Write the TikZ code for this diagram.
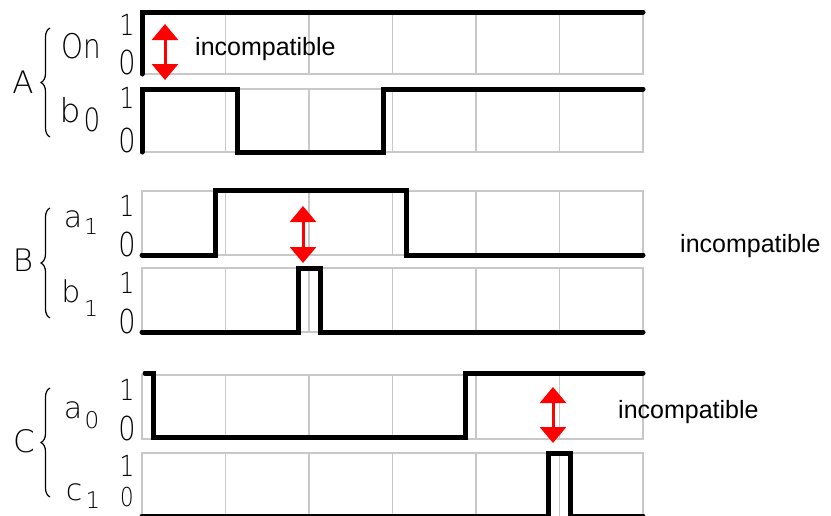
\documentclass[tikz,border=0pt]{standalone}
\usepackage{graphicx}
\usepackage{fontspec}
\setmainfont{Liberation Sans}
\newfontfamily\thinfont{DejaVu Sans ExtraLight}
\usetikzlibrary{arrows.meta,decorations.pathreplacing}
\definecolor{gridgray}{RGB}{200,200,200}
\newcommand{\narrow}[1]{\scalebox{0.82}[1]{#1}}
\begin{document}
\begin{tikzpicture}[x=1pt,y=-1pt,
  gridline/.style={draw=gridgray, line width=1.5pt},
  signal/.style={draw=black, line width=5pt, line cap=round, line join=miter},
  incarrow/.style={draw=red, line width=3pt,
     {Triangle[width=26pt,length=16pt]}-{Triangle[width=26pt,length=16pt]}},
  note/.style={font=\fontsize{25}{30}\selectfont, anchor=base west, inner sep=0pt},
  lab/.style={font=\thinfont\fontsize{#1}{#1}\selectfont, inner sep=0pt},
  lab/.default=30,
  bracestyle/.style={draw=black, line width=1.2pt, decorate,
     decoration={brace, amplitude=9pt}}
]
\useasboundingbox (0,0) rectangle (831,515);
\fill[white] (0,0) rectangle (831,515);

% grid panels
\foreach \t/\b in {13/74, 89/152, 191/255, 268/332, 375/439, 453/517}{
  \draw[gridline] (142,\t) rectangle (643,\b);
  \foreach \k in {1,...,5}{
    \draw[gridline] ({142+83.5*\k},\t) -- ({142+83.5*\k},\b);
  }
}

% signals
\draw[signal] (142,74) -- (142,12) -- (643,12);
\draw[signal] (142,152) -- (142,89) -- (237,89) -- (237,152) -- (383,152) -- (383,89) -- (643,89);
\draw[signal] (142,255) -- (215,255) -- (215,190) -- (406,190) -- (406,255) -- (643,255);
\draw[signal] (142,332) -- (298,332) -- (298,268) -- (320,268) -- (320,332) -- (643,332);
\draw[signal] (145,373) -- (153,373) -- (153,437) -- (465,437) -- (465,373) -- (643,373);
\draw[signal] (142,516) -- (548,516) -- (548,453) -- (570,453) -- (570,516) -- (643,516);

% incompatibility arrows
\coordinate (a1t) at (165,24);  \coordinate (a1b) at (165,80);
\coordinate (a2t) at (303,206); \coordinate (a2b) at (303,263);
\coordinate (a3t) at (553,387); \coordinate (a3b) at (553,443);
\draw[incarrow] (a1t) -- (a1b);
\draw[incarrow] (a2t) -- (a2b);
\draw[incarrow] (a3t) -- (a3b);

\node[note] (nA) at (195,55) {incompatible};
\node[note] (nB) at (680,252) {incompatible};
\node[note] (nC) at (618,418) {incompatible};

% braces
\draw[bracestyle] (50,137) -- (50,28);
\draw[bracestyle] (50,318) -- (50,208);
\draw[bracestyle] (50,497) -- (50,388);

% group letters
\node[lab=31] (gA) at (23,82) {A};
\node[lab=31] (gB) at (23,260) {B};
\node[lab=31] (gC) at (24,441) {C};

% signal names
\node[lab=34] (sOn) at (81,46) {\narrow{On}};
\node[lab=33] (sb0) at (70,110) {b};
\node[lab=32] (sb0i) at (92,120) {\narrow{0}};
\node[lab=30] (sa1) at (73,219) {a};
\node[lab=22] (sa1i) at (91,226) {1};
\node[lab=30] (sb1) at (71,291) {b};
\node[lab=22] (sb1i) at (91,308) {1};
\node[lab=30] (sa0) at (73,410) {a};
\node[lab=23] (sa0i) at (92,420) {0};
\node[lab=30] (sc1) at (74,492) {c};
\node[lab=23] (sc1i) at (93,500) {1};

% level digits
\foreach \n/\y in {1/25, 2/98, 3/206, 4/283, 5/390, 6/466}{
  \node[lab=29] (one\n) at (127,\y) {\narrow{1}};
}
\foreach \n/\y in {1/62, 2/140, 3/244, 4/321, 5/428}{
  \node[lab=33] (zero\n) at (127,\y) {\narrow{0}};
}
\node[lab=26] (zero6) at (127,497) {\narrow{0}};
\end{tikzpicture}
\end{document}
